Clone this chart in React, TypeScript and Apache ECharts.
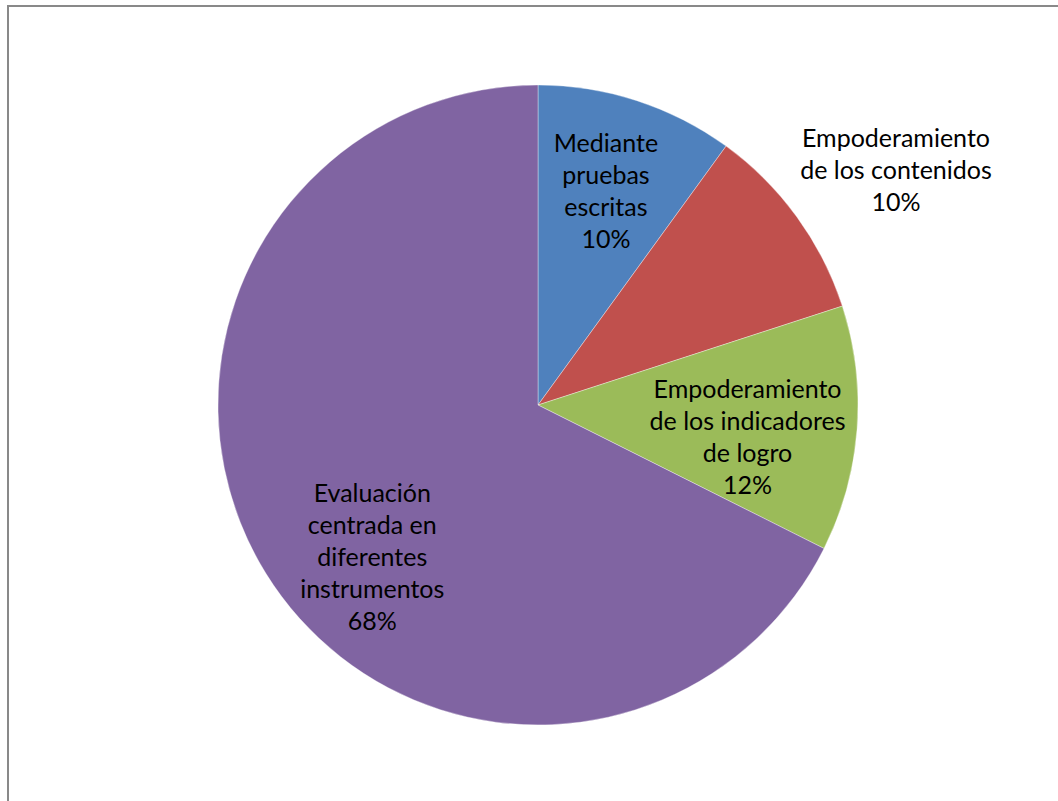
import React, { useEffect, useRef } from "react";
import * as echarts from "echarts";

const categories = [
  "Mediante\npruebas\nescritas",
  "Empoderamiento\nde los contenidos",
  "Empoderamiento\nde los indicadores\nde logro",
  "Evaluación\ncentrada en\ndiferentes\ninstrumentos",
];
const values = [10, 10, 12.4, 67.6];
const colors = ["#4F81BD", "#C0504D", "#9BBB59", "#8064A2"];

// label placement: [radius factor, angle shift in degrees]
const labelPlacement: [number, number][] = [
  [0.706, -0.5],
  [1.34, 2.6],
  [0.662, 4.1],
  [0.7, -10.6],
];

const CX = 538;
const CY = 405;
const R = 320;

export default function App() {
  const ref = useRef<HTMLDivElement>(null);
  useEffect(() => {
    if (!ref.current) return;
    const chart = echarts.init(ref.current, null, { renderer: "svg" });
    const total = values.reduce((a, b) => a + b, 0);
    let cum = 0;
    const mids = values.map((v) => {
      const m = ((cum + v / 2) / total) * 360;
      cum += v;
      return m;
    });
    chart.setOption({
      animation: false,
      backgroundColor: "#ffffff",
      graphic: [
        {
          type: "rect",
          shape: { x: 8, y: 6, width: 1100, height: 900 },
          style: { fill: "none", stroke: "#898989", lineWidth: 2 },
          silent: true,
          z: -1,
        },
      ],
      series: [
        {
          type: "pie",
          center: [CX, CY],
          radius: [0, R],
          startAngle: 90,
          clockwise: true,
          silent: true,
          data: categories.map((name, i) => ({
            name,
            value: values[i],
            itemStyle: { color: colors[i] },
          })),
          itemStyle: { borderColor: "rgba(255,255,255,0.45)", borderWidth: 0.8 },
          label: {
            show: true,
            position: "inside",
            color: "#000000",
            fontFamily: "Lato",
            fontSize: 25,
            lineHeight: 32,
            align: "center",
            formatter: (p: any) => `${p.name}\n${Math.round(p.percent)}%`,
          },
          labelLine: { show: false },
          labelLayout: (p: any) => {
            const i = p.dataIndex;
            const [f, shift] = labelPlacement[i];
            const a = ((mids[i] + shift) * Math.PI) / 180;
            return {
              x: CX + R * f * Math.sin(a),
              y: CY - R * f * Math.cos(a),
              align: "center",
              verticalAlign: "middle",
            };
          },
        },
      ],
    });
    return () => chart.dispose();
  }, []);
  return (
    <div style={{ position: "absolute", left: 0, top: 0, width: 1058, height: 801 }}>
      <div ref={ref} style={{ width: 1058, height: 801 }} />
    </div>
  );
}
